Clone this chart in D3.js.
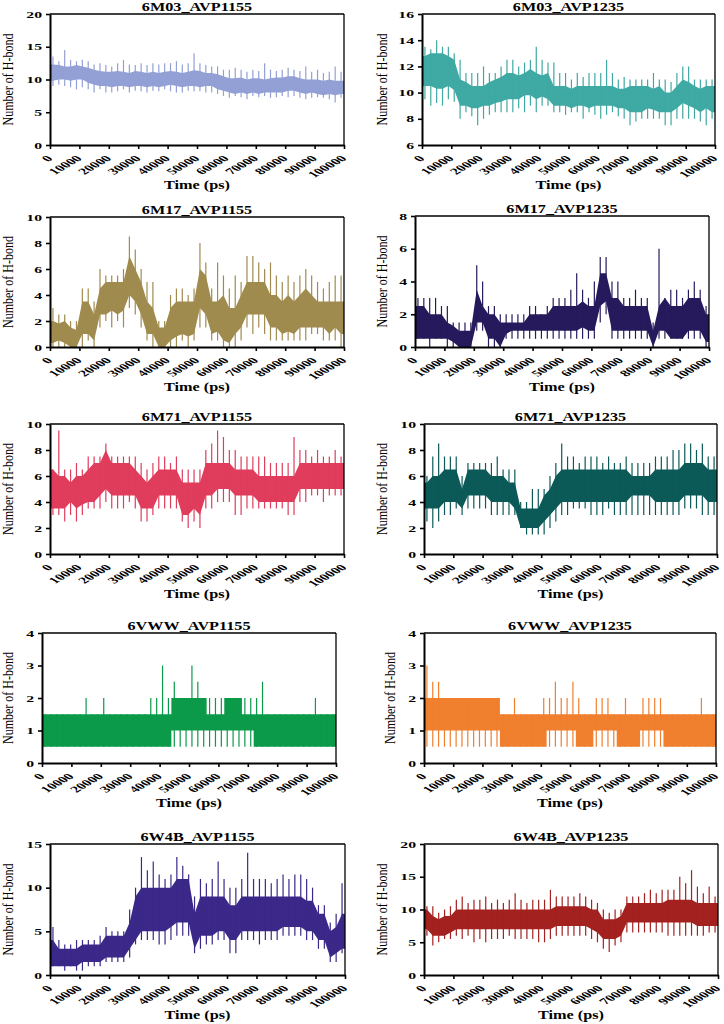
<!DOCTYPE html>
<html><head><meta charset="utf-8">
<script src="https://cdn.jsdelivr.net/npm/d3@7"></script>
<style>body{margin:0;background:#fff}svg{display:block}</style>
</head><body>
<svg id="c" width="724" height="1024"></svg>
<script>
// ---- DATA (per 2000 ps bin: typical band low/high, and extreme min/max) ----
const X_TICKS = [0,10000,20000,30000,40000,50000,60000,70000,80000,90000,100000];
const BIN_PS = 2000;

const p1Lo = [9.8,10,10,9.8,10,10,9.5,9.2,9,9,8.8,9,9,8.8,9,9,8.8,9,8.8,9,9.2,9,8.8,9,9,8.8,9,9,8.5,8.3,8,7.8,8,7.8,8,7.8,8,8,8,8,8.3,8.3,8,7.8,8,7.8,7.6,7.8,7.6,7.8];
const p1Hi = [12.3,12.2,12,12,12.2,12,11.8,11.5,11.3,11.2,11.2,11.3,11.2,11,11.3,11.2,11,11.2,11,11.2,11.3,11.2,11,11.2,11.4,11.3,11,11,10.8,10.5,10.2,10.2,10.3,10,10.2,10.2,10,10.2,10.3,10.3,10.5,10.5,10.2,10,10,10,9.8,10,9.8,9.8];
const p1Max = [13.5,12.8,14.5,13,12.8,13,12.8,12.3,12.5,12.2,12,12.5,13,12.3,12.2,12.5,12.2,12.5,12.3,12.5,12.5,12.8,12.3,12.5,14,12.5,12.2,12,12,11.5,11.5,11.8,11.5,11.2,11.5,11.3,12.5,11.5,11.3,11.5,11.8,11.5,11.3,12,11.2,11.5,11,11.2,12,11.2];
const p1Min = [9,9.2,9,8.8,8.5,8.8,8.5,8,8.5,8,8,8.2,8.5,8,8.3,8.2,8,8.3,8.2,8.5,8.2,8,8,8.3,8.2,8.2,8,8,7.8,7.5,7.2,7.5,7.3,7,7.5,7.3,7.5,7.2,7.3,7.5,7.3,7.5,7.2,7,7.2,7.3,7.2,7,6.5,7.2];

const p2Lo = [10.5,10.5,10.3,10.3,10.5,10.2,9,9,8.8,8.8,9,9,9.2,9.3,9.5,9.5,9.5,9.8,9.8,9.5,9.7,9.5,9,9,9,8.8,9,9,8.8,9,9,9,9,8.8,8.8,8.5,8.5,8.5,8.8,8.7,8.5,8.5,8.5,8.8,9.2,9,8.8,8.5,8.8,8.5];
const p2Hi = [12.8,13,13,13,12.8,12.5,11,10.8,10.5,10.5,10.5,10.8,11,11.2,11.5,11.5,11.3,11.5,11.8,11.5,11.3,11.5,10.5,10.5,10.5,10.3,10.5,10.5,10.5,10.5,10.5,10.5,10.5,10.3,10.3,10.5,10.5,10.5,10.5,10.3,10.5,10,10,10.5,11,10.8,10.5,10.3,10.5,10.5];
const p2Max = [13.5,13.3,14,13.5,13.5,13,12.5,11.5,11.5,11.5,12,11.5,11.5,12,12.5,12.5,12,12.3,12.5,13.5,12.5,12.3,12.3,11.5,11.5,11,11.5,11.2,11.5,11.5,11.5,12.5,11.5,11,11.2,11,11,11,11,11.5,11,11,10.8,11.5,12,12,11,11,11,11];
const p2Min = [9.5,9,9.2,9,9.5,9.3,8,8.5,8.2,7.5,8,8.3,8.5,8.5,8.5,8.5,8.8,8.5,9,8.5,9,9,8.5,8.5,8.3,8.5,8.5,8,8.5,8.3,8,8.3,8.5,8.2,8,7.5,7.8,8,8,8,8,7.5,7.5,8,8,8,8,7.8,7.5,8];

const p3Lo = [0.3,0.5,0.3,0,0,1,1,0.5,2.5,2.5,2.8,2.5,2.8,4,3.5,2.5,1,1,0,0,0.5,0.8,1,0.8,1,3,2.5,1,1.2,0.5,0.3,1,1.5,2.5,2.5,2.5,2.5,1.5,1.5,1,1.2,1,1.5,1.5,1.5,1.5,1.5,1,1.5,1];
const p3Hi = [2,1.8,2,1.5,1.3,3.5,3.5,2.5,4.5,5,5,5,5,7,6,5,3.5,3,1.5,1.5,3,3.5,3.5,3.5,3.5,6,5.5,3.5,3.5,4,3,3,4,5,5,5,5,4,4,3.5,4,3.5,4,4.5,4,3.5,3.5,3.5,3.5,3.5];
const p3Max = [3,2.5,2.5,2,2,4.5,4.5,3.5,6,5.5,5.5,5.5,6,8.5,7.5,6,5,5,2,2,4,4.5,4.5,4,4.5,8,6.5,4.5,6.5,5.5,4.5,5.5,5,7,7,6.5,6,6.5,5.5,5,5.5,5,5.5,6,5.5,5,4.5,5,5.5,5.5];
const p3Min = [0,0,0,0,0,0,0.5,0,1.5,2,1.5,2,1.5,3,2.5,1.5,0.5,0,0,0,0,0,0.5,0,0.5,1.5,1.5,0.5,0.5,0,0,0,0.5,1.5,1,1.5,1,0.5,0.5,0.5,0.5,0.5,0.5,0.5,1,1,0.5,0.5,0.5,0];

const p4Lo = [0.5,0.5,0.5,0.5,0.5,0.5,0.3,0,0,0,1.5,1.5,0.5,0.5,0,0.8,1,1,1,1,1,1,1,1,1,1,1,1,1.2,1,1,2.5,2.8,1,1,1,1,1,1,1,0,1,1,0.5,0.5,0.5,1,1,1,0.3];
const p4Hi = [2.5,2.5,2,2,2,1.5,1.3,1,1,1,3.5,2.5,2,2,1.5,1.5,1.5,1.5,1.5,2,2,2,2,2.5,2.5,2.5,2.5,2.5,2.8,2.5,2.5,4.5,4.5,3,3,2.5,2.5,2.5,2.5,2.5,1,2.5,3,2.5,2.5,2.5,3,3,3,2];
const p4Max = [3,3,3,3,2.5,2.5,1.5,1.5,1.5,1.5,5,4,2.5,2.5,2,2,2,2,2,2.5,2.5,2,2.5,3,3,3,3.5,4.5,3.5,3,4,5.5,5.5,4,4,3,3,3.5,3,3,1.5,6,3,3.5,3.5,3,3.5,4,3.5,2.5];
const p4Min = [0.5,0.5,0,0.5,0.5,0,0,0,0,0,1,1,0,0,0,0.5,0.5,0.5,0.5,0.5,0.5,0.5,0.5,0.5,0.5,0.5,0.5,0.5,0.5,0.5,0.5,1.5,2,0.5,0.5,0.5,0.5,0.5,0.5,0.5,0,0.5,0.5,0.5,0.5,0.5,0.5,0.5,0.5,0];

const p5Lo = [3.5,3.5,3.5,4,3.5,3.8,4,4,4.5,5,4.5,4.5,4.5,4.5,4.5,3.5,3.5,3.5,4.5,4.5,4.5,4.5,3,3,3.5,3,4.5,4.5,5,5,5,4.5,4.5,4.5,4.5,4,4,4,4,4,4,4,5,5,5,5,5,5,5,5];
const p5Hi = [6.5,6,6,5.5,6,6,6.5,7,7,8,7,7,7,7,6.5,6,5.5,6,6.5,6.5,6.5,6.5,5.5,5.5,5.5,5.5,7,7,7,7,7,6.5,6.5,6.5,6.5,6,6,6,6,6,6,6,7,7,7,7,7,7,7,7];
const p5Max = [6.5,9.5,6.5,6.5,7,6.5,7.5,7.5,7.5,8.5,7.5,7.5,7.5,7.5,7.5,7,6.5,7,7.5,7.5,7,7.5,6.5,6.5,6.5,6.5,8,8.5,9.5,9,8,8,7.5,7.5,7.5,7.5,7.5,7,7,7,7,9,8,8,7.5,8,7.5,7.5,8,7.5];
const p5Min = [3,3,2.5,3,2.5,3,3.5,3.5,3.5,4,3.5,3.5,3.5,4,3.5,2.5,2.5,3,3.5,3.5,3.5,3.5,2.5,2,2.5,2,3.5,3.5,4,4,4,3,3,3.5,3.5,3.5,3.5,3.5,3.5,3.5,3,3,4,4,4.5,4.5,4,4.5,4.5,4.5];

const p6Lo = [3.5,3.5,3.5,4,4,4,3.5,4.5,4.5,4.5,4.5,4,4,4,4,3.5,2,2,2,2,2.5,3,3.5,4,4,4,4,4,4,4,4,4,4,4,4,4.5,4.5,4.5,4.5,4,4,4,4,4,4.5,4.5,4.5,4.5,4,4];
const p6Hi = [5.5,6,6,6.5,6.5,6.5,5,6.5,6.5,6.5,6.5,6,6,6,5.5,5.5,3.5,3.5,3.5,3.5,4.5,5,6,6.5,6.5,6.5,6.5,6.5,6.5,6.5,6.5,6.5,6.5,6.5,6.5,6,6,6,6,6.5,6.5,6.5,6.5,6.5,7,7,7,7,6.5,6.5];
const p6Max = [6,7.5,8.5,7.5,7.5,7.5,6,7,7,7,7,7,7.5,6.5,6.5,6.5,4,4,5,5,5,6,7,8.5,7.5,7.5,7,7.5,7.5,7.5,7,7.5,7,7,7.5,7,7,7,7,7.5,7.5,7.5,8,8,8.5,8.5,8,8.5,7.5,7.5];
const p6Min = [2.5,2,2.5,3,3,3.5,3,3.5,3.5,3.5,3.5,3,3,3,3,3,2,1.5,1.5,1.5,1.5,2,2.5,3,3,3.5,3.5,3.5,3,3,3,3.5,3,3,3,3,3,3,3,3,3,3,3,3,3.5,3.5,3.5,3,3,3];

const p7Lo = [0.5,0.5,0.5,0.5,0.5,0.5,0.5,0.5,0.5,0.5,0.5,0.5,0.5,0.5,0.5,0.5,0.5,0.5,0.5,0.5,0.5,0.5,1,1,1,1,1,1,1,1,1,1,1,1,1,1,0.5,0.5,0.5,0.5,0.5,0.5,0.5,0.5,0.5,0.5,0.5,0.5,0.5,0.5];
const p7Hi = [1.5,1.5,1.5,1.5,1.5,1.5,1.5,1.5,1.5,1.5,1.5,1.5,1.5,1.5,1.5,1.5,1.5,1.5,1.5,1.5,1.5,1.5,2,2,2,2,2,2,1.5,1.5,1.5,2,2,2,1.5,1.5,1.5,1.5,1.5,1.5,1.5,1.5,1.5,1.5,1.5,1.5,1.5,1.5,1.5,1.5];
const p7Max = [1.5,1.5,1.5,1.5,1.5,1.5,1.5,2,1.5,1.5,2,1.5,1.5,1.5,1.5,1.5,1.5,1.5,2,2,3,2,2.5,2,2,3,2.5,2,2,2,2,2,2,2,2,2,2,2.5,1.5,1.5,1.5,1.5,1.5,1.5,1.5,1.5,2,1.5,1.5,1.5];
const p7Min = [0.5,0.5,0.5,0.5,0.5,0.5,0.5,0.5,0.5,0.5,0.5,0.5,0.5,0.5,0.5,0.5,0.5,0.5,0.5,0.5,0.5,0.5,0.5,0.5,0.5,0.5,0.5,0.5,0.5,0.5,0.5,0.5,0.5,0.5,0.5,0.5,0.5,0.5,0.5,0.5,0.5,0.5,0.5,0.5,0.5,0.5,0.5,0.5,0.5,0.5];

const p8Lo = [1,1,1,1,1,1,1,1,1,1,1,1,1,0.5,0.5,0.5,0.5,0.5,0.5,0.5,0.5,1,1,1,1,1,0.5,0.5,0.5,1,1,1,1,0.5,0.5,0.5,0.5,1,1,1,1,0.5,0.5,0.5,0.5,0.5,0.5,0.5,0.5,0.5];
const p8Hi = [2,2,2,2,2,2,2,2,2,2,2,2,2,1.5,1.5,1.5,1.5,1.5,1.5,1.5,1.5,1.5,1.5,1.5,1.5,1.5,1.5,1.5,1.5,1.5,1.5,1.5,1.5,1.5,1.5,1.5,1.5,1.5,1.5,1.5,1.5,1.5,1.5,1.5,1.5,1.5,1.5,1.5,1.5,1.5];
const p8Max = [3,2.5,2.5,2,2,2,2,2,2,2,2,2,2,1.5,1.5,2,1.5,1.5,1.5,1.5,2,2,2.5,2,2,2.5,2,1.5,1.5,2,2,2,1.5,1.5,2,1.5,1.5,2,2,2,2,1.5,1.5,1.5,1.5,1.5,1.5,2,1.5,1.5];
const p8Min = [0.5,0.5,0.5,0.5,0.5,0.5,0.5,0.5,0.5,0.5,0.5,0.5,0.5,0.5,0.5,0.5,0.5,0.5,0.5,0.5,0.5,0.5,0.5,0.5,0.5,0.5,0.5,0.5,0.5,0.5,0.5,0.5,0.5,0.5,0.5,0.5,0.5,0.5,0.5,0.5,0.5,0.5,0.5,0.5,0.5,0.5,0.5,0.5,0.5,0.5];

const p9Lo = [1,1,1,1,1,1.5,1.5,1.5,1.5,2,2,2,2,3,4,5,5,5,5,5,5.5,6,6,6,3,4.5,4.5,4.5,5,5,4,4,5,5,5,5,5,5,5,5.5,5.5,5.5,5.5,5,5,4,4,2,2.5,3];
const p9Hi = [4,3,3,3,3,3.5,3.5,3.5,3.5,4.5,4.5,4.5,4.5,6,9,10,10,10,10,10,10,11,11,11,7,9,9,9,9,9,8,8,9,9,9,9,9,9,9,9,9,9,9,8.5,8.5,7,7,5,5.5,7];
const p9Max = [5.5,4,3.5,3.5,4,4,4,4,4.5,5.5,5,5,5,7.5,10,13.5,12,13,11.5,11,11.5,13.5,12.5,11.5,9,11,10.5,11,13,11,10,10,11,14,11,11,11,10.5,11,11.5,11,11.5,11.5,11,10,8,8,6,7,10.5];
const p9Min = [1,1,0.5,1,0.5,0.5,1,1,1,1.5,1.5,1.5,1.5,2,3.5,4,4,4,3.5,3.5,4,4.5,4.5,4.5,2.5,3,3.5,3.5,4,4,2.5,2.5,4,4,4,3.5,4,4,4,4.5,4.5,4.5,4.5,4,4,3,3,1.5,1.5,2.5];

const p10Lo = [7,6,6,6,6.5,7,7,7,7,7,7,7,7,7,7,7,7,7,7,7,7,7,7.5,7.5,7.5,7.5,7.5,7.5,7,6.5,5.5,5.5,5.5,6,8,8,8,8,8,8,8,8,8,8,8,8,7.5,7.5,7.5,7.5];
const p10Hi = [10,9,8.5,9,9,10,10,10,10,10,10,10,10,10,10,10,10,10,10,10,10,10,10.5,10.5,10.5,10.5,10.5,10.5,10,10,8.5,8.5,8.5,9,11,11,11,11,11,11,11,11.5,11.5,11.5,11.5,11.5,11,11,11,11];
const p10Max = [10.5,10.5,9.5,10,10.5,11.5,12,11,11.5,11.5,12,11,11.5,11,11.5,12.5,11.5,11,11.5,11.5,11.5,13,12,12,12,12,12.5,12,11.5,11,10,9.5,10,10,12,12,12,12.5,13,12.5,13,13,13,15,14,16,13.5,12.5,13.5,12];
const p10Min = [6,4.5,5,5.5,5.5,6,5.5,6,5,5.5,5,5.5,5.5,5.5,6,5.5,5.5,5.5,5.5,5,5,5.5,6,6,6,6,6,6,5.5,5,4,3.5,4.5,5,6.5,6.5,6.5,6.5,6.5,6.5,6.5,6,6,6,6,6,6,6,6.5,6.5];

const TITLES = ["6M03_AVP1155","6M03_AVP1235","6M17_AVP1155","6M17_AVP1235","6M71_AVP1155","6M71_AVP1235","6VWW_AVP1155","6VWW_AVP1235","6W4B_AVP1155","6W4B_AVP1235"];
const Y_DOMAINS = [[0,20],[6,16],[0,10],[0,8],[0,10],[0,10],[0,4],[0,4],[0,15],[0,20]];
const Y_TICKS = [[0,5,10,15,20],[6,8,10,12,14,16],[0,2,4,6,8,10],[0,2,4,6,8],[0,2,4,6,8,10],[0,2,4,6,8,10],[0,1,2,3,4],[0,1,2,3,4],[0,5,10,15],[0,5,10,15,20]];
const SERIES = [
  [p1Lo,p1Hi,p1Max,p1Min],[p2Lo,p2Hi,p2Max,p2Min],[p3Lo,p3Hi,p3Max,p3Min],[p4Lo,p4Hi,p4Max,p4Min],
  [p5Lo,p5Hi,p5Max,p5Min],[p6Lo,p6Hi,p6Max,p6Min],[p7Lo,p7Hi,p7Max,p7Min],[p8Lo,p8Hi,p8Max,p8Min],
  [p9Lo,p9Hi,p9Max,p9Min],[p10Lo,p10Hi,p10Max,p10Min]
];

// ---- STYLE / LAYOUT ----
const COLORS = ["#93a0d5","#3fa9a3","#a08b4e","#261a5c","#e03c5c","#0b5a58","#0b9a49","#f07f2e","#3b2889","#a3211f"];
const STEPPED = [false,false,false,false,false,false,true,true,false,false];
const LAYOUT = [
  {x0:50,x1:344,y0:14,y1:145,yl:8},
  {x0:422,x1:715,y0:14,y1:145,yl:382},
  {x0:50,x1:344,y0:217,y1:347,yl:8},
  {x0:415,x1:709,y0:216,y1:347,yl:382},
  {x0:50,x1:344,y0:424,y1:554,yl:8},
  {x0:424,x1:717,y0:424,y1:554,yl:382},
  {x0:42,x1:336,y0:633,y1:763,yl:8},
  {x0:424,x1:716,y0:633,y1:763,yl:390},
  {x0:50,x1:345,y0:844,y1:975,yl:8},
  {x0:424,x1:718,y0:844,y1:975,yl:382}
];
const FONT = "'Liberation Serif','Times New Roman',serif";
const fmt = d3.format("d");

const svg = d3.select("#c");
const defs = svg.append("defs");

TITLES.forEach((title, k) => {
  const L = LAYOUT[k], col = COLORS[k];
  const [lo, hi, mx, mn] = SERIES[k];
  const x = d3.scaleLinear().domain([0,100000]).range([L.x0, L.x1]);
  const y = d3.scaleLinear().domain(Y_DOMAINS[k]).range([L.y1, L.y0]);
  const g = svg.append("g");

  defs.append("clipPath").attr("id","clip"+k).append("rect")
    .attr("x",L.x0).attr("y",L.y0).attr("width",L.x1-L.x0).attr("height",L.y1-L.y0);
  const plot = g.append("g").attr("clip-path","url(#clip"+k+")");

  let pts, curve;
  if (STEPPED[k]) {
    pts = lo.map((v,i)=>({t:i*BIN_PS, lo:v, hi:hi[i]}));
    pts.push({t:lo.length*BIN_PS, lo:lo[lo.length-1], hi:hi[hi.length-1]});
    curve = d3.curveStepAfter;
  } else {
    pts = lo.map((v,i)=>({t:(i+0.5)*BIN_PS, lo:v, hi:hi[i]}));
    pts.unshift({t:0, lo:lo[0], hi:hi[0]});
    pts.push({t:lo.length*BIN_PS, lo:lo[lo.length-1], hi:hi[hi.length-1]});
    curve = d3.curveLinear;
  }
  const area = d3.area().x(d=>x(d.t)).y0(d=>y(d.lo)).y1(d=>y(d.hi)).curve(curve);
  plot.append("path").attr("d",area(pts)).attr("fill",col);

  plot.selectAll("line.w").data(mx).join("line").attr("class","w")
    .attr("x1",(d,i)=>x((i+0.5)*BIN_PS)).attr("x2",(d,i)=>x((i+0.5)*BIN_PS))
    .attr("y1",d=>y(d)).attr("y2",(d,i)=>y(mn[i]))
    .attr("stroke",col).attr("stroke-width",1.2);

  // frame
  g.append("line").attr("x1",L.x0).attr("x2",L.x1).attr("y1",L.y0).attr("y2",L.y0).attr("stroke","#000").attr("stroke-width",1.3);
  g.append("line").attr("x1",L.x1).attr("x2",L.x1).attr("y1",L.y0).attr("y2",L.y1).attr("stroke","#000").attr("stroke-width",1.3);

  // y axis
  const ya = g.append("g").attr("transform",`translate(${L.x0},0)`)
    .call(d3.axisLeft(y).tickValues(Y_TICKS[k]).tickFormat(fmt).tickSize(4).tickSizeOuter(0));
  ya.select(".domain").attr("stroke","#000").attr("stroke-width",2);
  ya.selectAll(".tick line").attr("stroke","#000").attr("stroke-width",1.6);
  ya.selectAll(".tick text").attr("x",0).attr("dy","0.35em")
    .attr("transform","translate(-8,0) scale(1.75,1)")
    .attr("text-anchor","end")
    .style("font-family",FONT).style("font-size","9px").style("font-weight","bold").attr("fill","#000");

  // x axis
  const xa = g.append("g").attr("transform",`translate(0,${L.y1})`)
    .call(d3.axisBottom(x).tickValues(X_TICKS).tickFormat(fmt).tickSize(4).tickSizeOuter(0));
  xa.select(".domain").attr("stroke","#000").attr("stroke-width",2);
  xa.selectAll(".tick line").attr("stroke","#000").attr("stroke-width",1.6);
  xa.selectAll(".tick text").attr("x",0).attr("y",0).attr("dy",0)
    .attr("text-anchor","end")
    .attr("transform","translate(3,14) scale(1.75,1) rotate(-45)")
    .style("font-family",FONT).style("font-size","9px").style("font-weight","bold").attr("fill","#000");

  // title
  const cx = (L.x0+L.x1)/2;
  g.append("text").text(title)
    .attr("transform",`translate(${cx},${L.y0-3}) scale(1.35,1)`)
    .attr("text-anchor","middle")
    .style("font-family",FONT).style("font-size","12px").style("font-weight","bold");

  // x label
  g.append("text").text("Time (ps)")
    .attr("transform",`translate(${cx},${L.y1+44}) scale(1.25,1)`)
    .attr("text-anchor","middle")
    .style("font-family",FONT).style("font-size","13px").style("font-weight","bold");

  // y label
  g.append("text").text("Number of H-bond")
    .attr("transform",`translate(${L.yl},${(L.y0+L.y1)/2}) scale(1.3,1) rotate(-90)`)
    .attr("text-anchor","middle").attr("dy","0.35em")
    .style("font-family",FONT).style("font-size","12px");
});
</script>
</body></html>
